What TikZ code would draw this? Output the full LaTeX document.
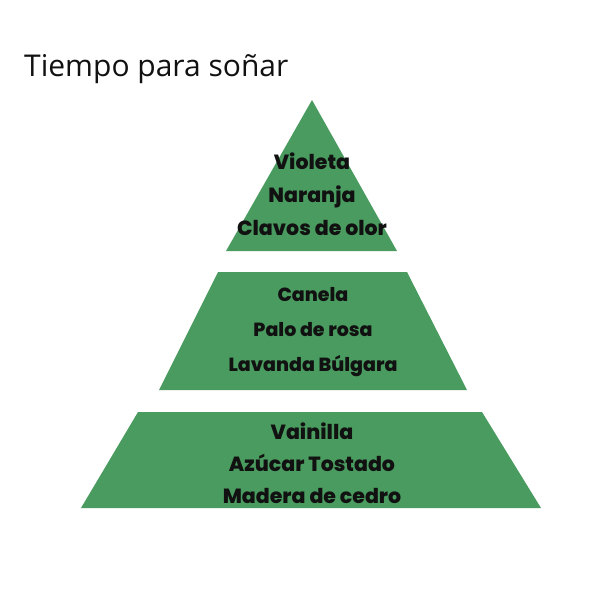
\documentclass[tikz,border=0pt]{standalone}
\usepackage{fontspec}
\setmainfont{Open Sans}
\newfontfamily\notefont{Poppins}[UprightFont=* ExtraBold]
\usetikzlibrary{positioning}
\definecolor{leaf}{HTML}{4A9B5F}
\definecolor{ink} {HTML}{111111}
\tikzset{
  tier/.style     ={fill=leaf, draw=none},
  notes/.style    ={align=center, text=ink, inner sep=0pt,
                    font=\notefont\fontsize{20}{33}\selectfont},
  titletext/.style={anchor=base west, inner sep=0pt, text=ink,
                    font=\fontsize{30}{36}\selectfont},
}

\begin{document}
\begin{tikzpicture}[x=1pt,y=-1pt]
    \useasboundingbox (0,0) rectangle (600,600);
    \node[titletext] (title) at (24,76) {Tiempo para soñar};
    % pyramid tiers
    \fill[tier] (312,100) -- (397,251) -- (226,251) -- cycle;
    \fill[tier] (218,272) -- (407,272) -- (467,390) -- (159,390) -- cycle;
    \fill[tier] (138,412) -- (482,412) -- (541,508) -- (81,508) -- cycle;
    \node[notes,font=\notefont\fontsize{20.5}{33}\selectfont] (top) at (312,194)
      {Violeta\\Naranja\\Clavos de olor};
    \node[notes,font=\notefont\fontsize{19}{35}\selectfont] (mid) at (313,332)
      {Canela\\Palo de rosa\\Lavanda Búlgara};
    \node[notes,font=\notefont\fontsize{20.5}{32}\selectfont] (base) at (312,463)
      {Vainilla\\Azúcar Tostado\\Madera de cedro};
\end{tikzpicture}
\end{document}
